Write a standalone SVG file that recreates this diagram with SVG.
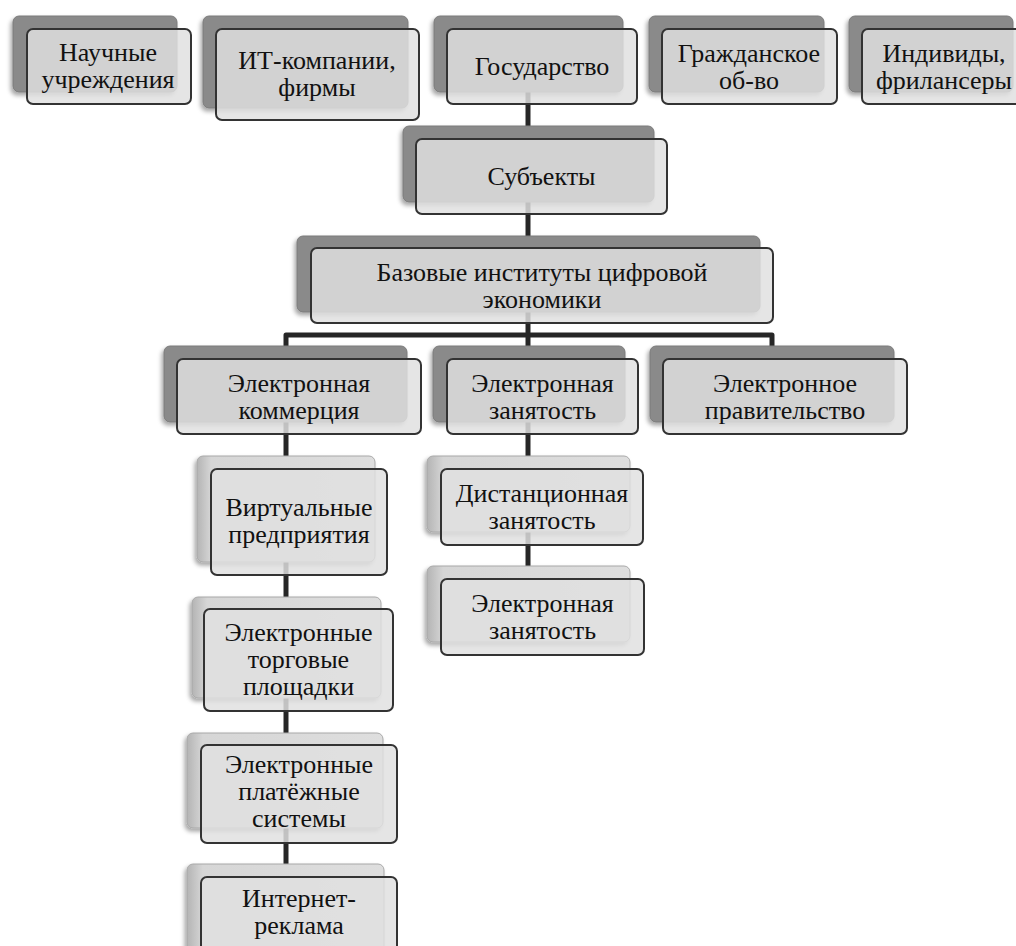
<svg xmlns="http://www.w3.org/2000/svg" width="1016" height="946" viewBox="0 0 1016 946">
  <style>
    .back1 { fill: #8a8a8a; stroke: #7a7a7a; stroke-width: 1; filter: url(#sh); }
    .back3 { fill: url(#lg); stroke: #a8a8a8; stroke-width: 1; filter: url(#sh); }
    .front { fill: #e0e0e0; fill-opacity: 0.84; stroke: #333333; stroke-width: 2; }
    .t { font-family: "Liberation Serif", "Times New Roman", serif; font-size: 26px; fill: #111111; text-anchor: middle; }
    .conn { fill: none; stroke: #262626; stroke-width: 5; stroke-linejoin: round; }
  </style>
  <defs>
    <filter id="sh" x="-10%" y="-10%" width="120%" height="130%">
      <feDropShadow dx="-2" dy="3" stdDeviation="2" flood-color="#000000" flood-opacity="0.35"/>
    </filter>
    <linearGradient id="lg" x1="0" y1="0" x2="1" y2="0">
      <stop offset="0" stop-color="#b4b4b4"/>
      <stop offset="0.08" stop-color="#d6d6d6"/>
      <stop offset="1" stop-color="#dedede"/>
    </linearGradient>
  </defs>
  <rect width="1016" height="946" fill="#ffffff"/>

  <g id="connectors">
    <path class="conn" d="M528,92 V126"/>
    <path class="conn" d="M528,202 V236"/>
    <path class="conn" d="M528,312 V346"/>
    <path class="conn" d="M286,346 V335 H772 V346"/>
    <path class="conn" d="M286,422 V456"/>
    <path class="conn" d="M286,562 V597"/>
    <path class="conn" d="M286,698 V733"/>
    <path class="conn" d="M286,828 V864"/>
    <path class="conn" d="M528,422 V456"/>
    <path class="conn" d="M528,532 V566"/>
  </g>

  <g id="n-nauchnye">
    <rect class="back1" x="13" y="16" width="164" height="76" rx="6"/>
    <rect class="front" x="27" y="29" width="164" height="75" rx="6"/>
    <text class="t" x="108" y="61">Научные</text>
    <text class="t" x="108" y="88">учреждения</text>
  </g>
  <g id="n-it">
    <rect class="back1" x="203" y="16" width="205" height="92" rx="6"/>
    <rect class="front" x="216" y="29" width="203" height="91" rx="6"/>
    <text class="t" x="317" y="69">ИТ-компании,</text>
    <text class="t" x="317" y="96">фирмы</text>
  </g>
  <g id="n-gos">
    <rect class="back1" x="434" y="16" width="189" height="76" rx="6"/>
    <rect class="front" x="447" y="29" width="190" height="75" rx="6"/>
    <text class="t" x="542" y="75">Государство</text>
  </g>
  <g id="n-grazhd">
    <rect class="back1" x="649" y="16" width="175" height="76" rx="6"/>
    <rect class="front" x="662" y="29" width="175" height="75" rx="6"/>
    <text class="t" x="749" y="61.5">Гражданское</text>
    <text class="t" x="749" y="88.5">об-во</text>
  </g>
  <g id="n-individy">
    <rect class="back1" x="849" y="16" width="164" height="76" rx="6"/>
    <rect class="front" x="862" y="29" width="164" height="75" rx="6"/>
    <text class="t" x="944" y="61.5">Индивиды,</text>
    <text class="t" x="944" y="88.5">фрилансеры</text>
  </g>
  <g id="n-subjekty">
    <rect class="back1" x="403" y="126" width="251" height="76" rx="6"/>
    <rect class="front" x="416" y="139" width="251" height="75" rx="6"/>
    <text class="t" x="541.5" y="185">Субъекты</text>
  </g>
  <g id="n-bazovye">
    <rect class="back1" x="297" y="236" width="463" height="76" rx="6"/>
    <rect class="front" x="311" y="248" width="462" height="75" rx="6"/>
    <text class="t" x="542" y="280.5">Базовые институты цифровой</text>
    <text class="t" x="542" y="307.5">экономики</text>
  </g>
  <g id="n-ecommerce">
    <rect class="back1" x="164" y="346" width="243" height="76" rx="6"/>
    <rect class="front" x="177" y="359" width="244" height="75" rx="6"/>
    <text class="t" x="299" y="391.5">Электронная</text>
    <text class="t" x="299" y="418.5">коммерция</text>
  </g>
  <g id="n-ezanyatost">
    <rect class="back1" x="433" y="346" width="192" height="76" rx="6"/>
    <rect class="front" x="447" y="359" width="191" height="75" rx="6"/>
    <text class="t" x="542.5" y="391.5">Электронная</text>
    <text class="t" x="542.5" y="418.5">занятость</text>
  </g>
  <g id="n-egov">
    <rect class="back1" x="650" y="346" width="244" height="76" rx="6"/>
    <rect class="front" x="663" y="359" width="244" height="75" rx="6"/>
    <text class="t" x="785" y="391.5">Электронное</text>
    <text class="t" x="785" y="418.5">правительство</text>
  </g>
  <g id="n-virtual">
    <rect class="back3" x="197" y="456" width="178" height="106" rx="6"/>
    <rect class="front" x="211" y="469" width="176" height="106" rx="6"/>
    <text class="t" x="299" y="515.5">Виртуальные</text>
    <text class="t" x="299" y="542.5">предприятия</text>
  </g>
  <g id="n-torg">
    <rect class="back3" x="192" y="597" width="189" height="101" rx="6"/>
    <rect class="front" x="204" y="609" width="189" height="102" rx="6"/>
    <text class="t" x="298.5" y="640.5">Электронные</text>
    <text class="t" x="298.5" y="667.5">торговые</text>
    <text class="t" x="298.5" y="694.5">площадки</text>
  </g>
  <g id="n-plat">
    <rect class="back3" x="187" y="733" width="196" height="95" rx="6"/>
    <rect class="front" x="201" y="745" width="196" height="98" rx="6"/>
    <text class="t" x="299" y="773">Электронные</text>
    <text class="t" x="299" y="800">платёжные</text>
    <text class="t" x="299" y="827">системы</text>
  </g>
  <g id="n-reklama">
    <rect class="back3" x="187" y="864" width="197" height="110" rx="6"/>
    <rect class="front" x="201" y="877" width="196" height="110" rx="6"/>
    <text class="t" x="299" y="907">Интернет-</text>
    <text class="t" x="299" y="934">реклама</text>
  </g>
  <g id="n-distant">
    <rect class="back3" x="427" y="456" width="203" height="76" rx="6"/>
    <rect class="front" x="441" y="469" width="202" height="76" rx="6"/>
    <text class="t" x="542" y="502">Дистанционная</text>
    <text class="t" x="542" y="529">занятость</text>
  </g>
  <g id="n-ezanyatost2">
    <rect class="back3" x="427" y="566" width="203" height="76" rx="6"/>
    <rect class="front" x="441" y="579" width="203" height="76" rx="6"/>
    <text class="t" x="542.5" y="612">Электронная</text>
    <text class="t" x="542.5" y="639">занятость</text>
  </g>
</svg>
